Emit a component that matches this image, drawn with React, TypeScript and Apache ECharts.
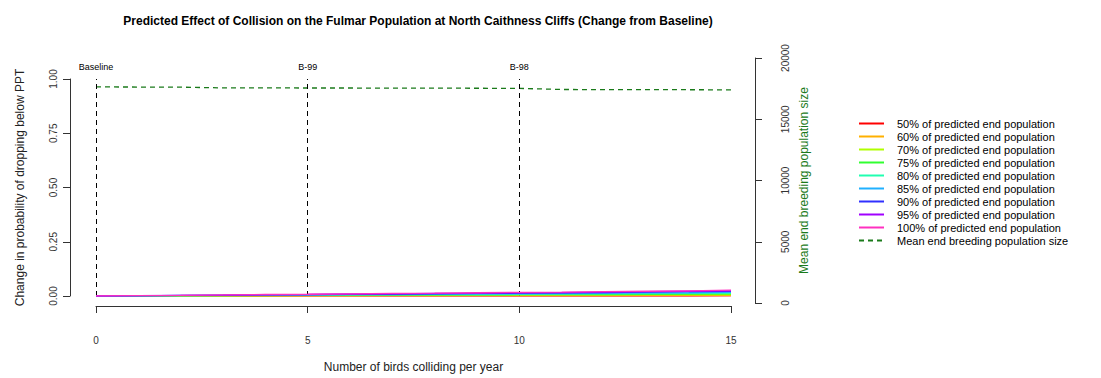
import React, { useEffect, useRef } from "react";
import * as echarts from "echarts";

const xValues = [0, 1, 2, 3, 4, 5, 6, 7, 8, 9, 10, 11, 12, 13, 14, 15];

const seriesNames = [
  "50% of predicted end population",
  "60% of predicted end population",
  "70% of predicted end population",
  "75% of predicted end population",
  "80% of predicted end population",
  "85% of predicted end population",
  "90% of predicted end population",
  "95% of predicted end population",
  "100% of predicted end population",
];
const seriesColors = ["#FF0000", "#FFB000", "#B0FF00", "#30FF30", "#20FFB0", "#20B0FF", "#3030FF", "#A000FF", "#FF30C0"];

const p50 = [0, 0, 0, 0, 0, 0, 0, 0, 0, 0, 0, 0, 0, 0, 0, 0.001];
const p60 = [0, 0, 0, 0, 0, 0.001, 0.001, 0.001, 0.001, 0.002, 0.002, 0.002, 0.002, 0.003, 0.003, 0.003];
const p70 = [0, 0, 0.001, 0.001, 0.002, 0.002, 0.002, 0.003, 0.003, 0.004, 0.004, 0.005, 0.005, 0.006, 0.006, 0.007];
const p75 = [0, 0.001, 0.001, 0.002, 0.002, 0.003, 0.004, 0.004, 0.005, 0.005, 0.006, 0.007, 0.007, 0.008, 0.009, 0.010];
const p80 = [0, 0.001, 0.002, 0.002, 0.003, 0.004, 0.005, 0.006, 0.006, 0.007, 0.008, 0.009, 0.010, 0.011, 0.012, 0.013];
const p85 = [0, 0.001, 0.002, 0.003, 0.004, 0.005, 0.006, 0.007, 0.008, 0.009, 0.010, 0.011, 0.012, 0.014, 0.015, 0.017];
const p90 = [0, 0.001, 0.003, 0.004, 0.005, 0.006, 0.008, 0.009, 0.010, 0.012, 0.013, 0.015, 0.016, 0.018, 0.020, 0.022];
const p95 = [0, 0.002, 0.003, 0.004, 0.006, 0.007, 0.009, 0.010, 0.012, 0.013, 0.015, 0.016, 0.018, 0.020, 0.022, 0.024];
const p100 = [0, 0.002, 0.003, 0.005, 0.007, 0.008, 0.010, 0.012, 0.013, 0.015, 0.017, 0.018, 0.020, 0.022, 0.024, 0.027];
const probSeries = [p50, p60, p70, p75, p80, p85, p90, p95, p100];

const popName = "Mean end breeding population size";
const popValues = [17640, 17630, 17620, 17560, 17560, 17550, 17550, 17540, 17540, 17530, 17520, 17430, 17420, 17420, 17410, 17400];

const scenarioLines = [
  { x: 0, label: "Baseline" },
  { x: 5, label: "B-99" },
  { x: 10, label: "B-98" },
];

const xTicks = { min: 0, max: 15, interval: 5 };
const leftTicks = { min: 0, max: 1, interval: 0.25 };
const rightTicks = { min: 0, max: 20000, interval: 5000 };

const FONT = "Liberation Sans, Arial, sans-serif";

export default function App() {
  const ref = useRef<HTMLDivElement>(null);
  useEffect(() => {
    if (!ref.current) return;
    const chart = echarts.init(ref.current, undefined, { renderer: "svg" });
    const series: any[] = probSeries.map((vals, i) => ({
      name: seriesNames[i],
      type: "line",
      xAxisIndex: 0,
      yAxisIndex: 0,
      symbol: "none",
      data: xValues.map((x, j) => [x, vals[j]]),
      lineStyle: { color: seriesColors[i], width: 1.3 },
      itemStyle: { color: seriesColors[i] },
      z: 3 + i,
    }));
    series[0].markLine = {
      silent: true,
      symbol: "none",
      animation: false,
      lineStyle: { color: "#000", type: [5, 4], width: 1 },
      label: {
        position: "end",
        formatter: "{b}",
        fontSize: 9,
        color: "#000",
        fontFamily: FONT,
        distance: 8,
      },
      data: scenarioLines.map((s) => ({ name: s.label, xAxis: s.x })),
    };
    series.push({
      name: popName,
      type: "line",
      xAxisIndex: 1,
      yAxisIndex: 1,
      symbol: "none",
      data: xValues.map((x, j) => [x, popValues[j]]),
      lineStyle: { color: "#1a7a1a", width: 1.3, type: [5, 4] },
      itemStyle: { color: "#1a7a1a" },
      z: 2,
    });

    chart.setOption({
      animation: false,
      backgroundColor: "#fff",
      textStyle: { fontFamily: FONT },
      title: {
        text: "Predicted Effect of Collision on the Fulmar Population at North Caithness Cliffs (Change from Baseline)",
        left: 413,
        top: 10,
        textAlign: "center",
        textStyle: { fontSize: 12, fontWeight: "bold", color: "#000", fontFamily: FONT },
      },
      legend: {
        orient: "vertical",
        left: 853,
        top: 113,
        itemWidth: 25,
        itemHeight: 12,
        itemGap: 2,
        itemStyle: { opacity: 0, borderWidth: 0 },
        textStyle: { fontSize: 11, color: "#000", fontFamily: FONT, padding: [0, 0, 0, 8] },
        data: [...seriesNames, popName],
      },
      grid: [
        { left: 96, width: 635, top: 79, height: 224 },
        { left: 96, width: 635, top: 58, height: 245 },
      ],
      xAxis: [
        {
          gridIndex: 0,
          type: "value",
          ...xTicks,
          offset: 10,
          axisLine: { show: true, onZero: false, lineStyle: { color: "#333", width: 1 } },
          axisTick: { show: true, length: 7, lineStyle: { color: "#333" } },
          axisLabel: { fontSize: 10, color: "#333", margin: 29, fontFamily: FONT },
          splitLine: { show: false },
          name: "Number of birds colliding per year",
          nameLocation: "middle",
          nameGap: 55,
          nameTextStyle: { fontSize: 12, color: "#222", fontFamily: FONT },
        },
        {
          gridIndex: 1,
          type: "value",
          ...xTicks,
          show: false,
        },
      ],
      yAxis: [
        {
          gridIndex: 0,
          type: "value",
          ...leftTicks,
          position: "left",
          offset: 26,
          axisLine: { show: true, onZero: false, lineStyle: { color: "#333", width: 1 } },
          axisTick: { show: true, length: 7, lineStyle: { color: "#333" } },
          axisLabel: {
            fontSize: 10,
            color: "#333",
            rotate: 90,
            margin: 12,
            fontFamily: FONT,
            formatter: (v: number) => v.toFixed(2),
          },
          splitLine: { show: false },
          name: "Change in probability of dropping below PPT",
          nameLocation: "middle",
          nameGap: 44,
          nameTextStyle: { fontSize: 12, color: "#222", fontFamily: FONT },
        },
        {
          gridIndex: 1,
          type: "value",
          ...rightTicks,
          position: "right",
          offset: 24,
          axisLine: { show: true, onZero: false, lineStyle: { color: "#333", width: 1 } },
          axisTick: { show: true, length: 7, lineStyle: { color: "#333" } },
          axisLabel: {
            fontSize: 10,
            color: "#333",
            rotate: 90,
            margin: 25,
            fontFamily: FONT,
            formatter: (v: number) => String(v),
          },
          splitLine: { show: false },
          name: popName,
          nameLocation: "middle",
          nameGap: 42,
          nameTextStyle: { fontSize: 12, color: "#1a7a1a", fontFamily: FONT },
        },
      ],
      series,
    });
    return () => chart.dispose();
  }, []);
  return (
    <div
      ref={ref}
      style={{ position: "fixed", left: 0, top: 0, width: 1101, height: 378, background: "#fff" }}
    />
  );
}
